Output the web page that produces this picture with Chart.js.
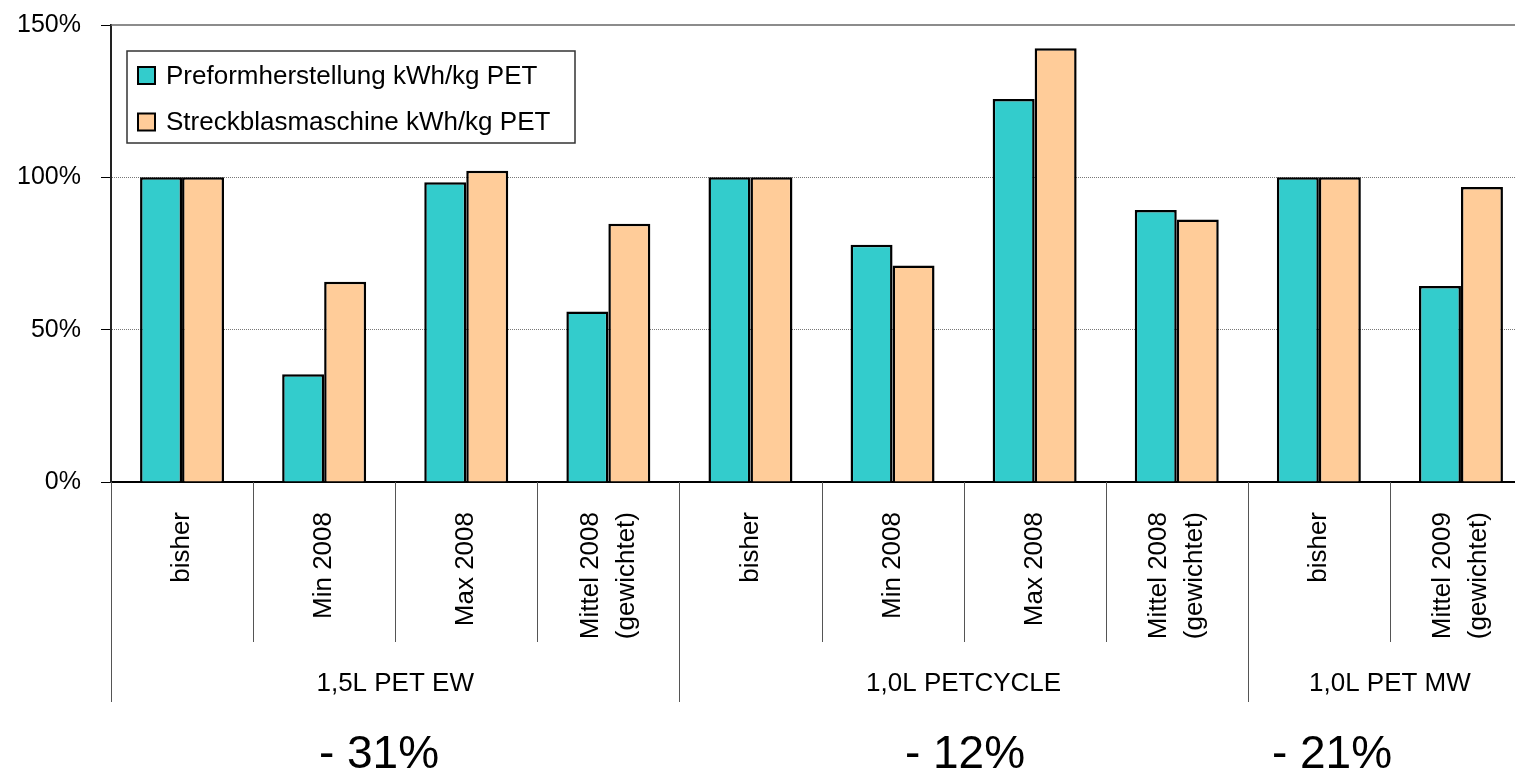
<!DOCTYPE html>
<html>
<head>
<meta charset="utf-8">
<title>Energieverbrauch PET</title>
<script src="https://cdn.jsdelivr.net/npm/chart.js@4/dist/chart.umd.min.js"></script>
<style>
    html, body { margin: 0; padding: 0; background: #fff; overflow: hidden; }
    canvas { display: block; }
</style>
</head>
<body>
<canvas id="energyChart" width="1540" height="773"></canvas>
<script>
// data
const categories = ["bisher", "Min 2008", "Max 2008", ["Mittel 2008", "(gewichtet)"],
    "bisher", "Min 2008", "Max 2008", ["Mittel 2008", "(gewichtet)"],
    "bisher", ["Mittel 2009", "(gewichtet)"]];
const groups = ["1,5L PET EW", "1,0L PETCYCLE", "1,0L PET MW"];
const groupSizes = [4, 4, 2];
const reductions = ["- 31%", "- 12%", "- 21%"];
const seriesNames = ["Preformherstellung kWh/kg PET", "Streckblasmaschine kWh/kg PET"];
const preform = [100, 35.4, 98.4, 56.0, 100, 77.9, 125.7, 89.3, 100, 64.3];
const streck = [100, 65.7, 102.2, 84.8, 100, 71.1, 142.4, 86.2, 100, 96.8];
const yTicks = [0, 50, 100, 150];

const colors = ["#33CCCC", "#FFCC99"];
const fontFamily = "'Liberation Sans', Arial, sans-serif";
Chart.defaults.font.family = fontFamily;
Chart.defaults.color = "#000";

// multi level axis, legend box and the reduction notes
const extras = {
    id: "extras",
    afterDraw(chart) {
        const ctx = chart.ctx;
        const area = chart.chartArea;
        const x = chart.scales.x;
        ctx.save();

        // top line at 150%
        ctx.strokeStyle = "#666";
        ctx.lineWidth = 1.5;
        ctx.beginPath();
        ctx.moveTo(area.left, area.top);
        ctx.lineTo(area.right, area.top);
        ctx.stroke();

        // separators between categories and groups
        let groupStarts = [0];
        groupSizes.forEach((n, i) => groupStarts.push(groupStarts[i] + n));
        ctx.strokeStyle = "#555";
        ctx.lineWidth = 1;
        for (let i = 0; i <= categories.length; i++) {
            let px;
            if (i === 0) px = area.left;
            else if (i === categories.length) px = area.right;
            else px = (x.getPixelForValue(i - 1) + x.getPixelForValue(i)) / 2;
            const isGroup = groupStarts.includes(i);
            ctx.beginPath();
            ctx.moveTo(Math.round(px) + 0.5, area.bottom);
            ctx.lineTo(Math.round(px) + 0.5, isGroup ? area.bottom + 220 : area.bottom + 160);
            ctx.stroke();
        }

        // rotated category labels
        ctx.fillStyle = "#000";
        ctx.font = "26px " + fontFamily;
        ctx.textAlign = "right";
        ctx.textBaseline = "middle";
        categories.forEach((label, i) => {
            const lines = Array.isArray(label) ? label : [label];
            const cx = x.getPixelForValue(i);
            lines.forEach((line, j) => {
                const off = (j - (lines.length - 1) / 2) * 36;
                ctx.save();
                ctx.translate(cx + off, area.bottom + 30);
                ctx.rotate(-Math.PI / 2);
                ctx.fillText(line, 0, 0);
                ctx.restore();
            });
        });

        // group labels
        ctx.textAlign = "center";
        ctx.textBaseline = "alphabetic";
        ctx.font = "26px " + fontFamily;
        groups.forEach((g, i) => {
            const a = groupStarts[i] === 0 ? area.left :
                (x.getPixelForValue(groupStarts[i] - 1) + x.getPixelForValue(groupStarts[i])) / 2;
            const b = groupStarts[i + 1] === categories.length ? area.right :
                (x.getPixelForValue(groupStarts[i + 1] - 1) + x.getPixelForValue(groupStarts[i + 1])) / 2;
            ctx.fillText(g, (a + b) / 2, area.bottom + 209);
        });

        // reductions below the groups
        ctx.font = "46px " + fontFamily;
        const notePos = [379, 965, 1332];
        reductions.forEach((r, i) => {
            ctx.fillText(r, notePos[i], 768);
        });

        // legend
        ctx.fillStyle = "#fff";
        ctx.fillRect(127, 51, 448, 92);
        ctx.strokeStyle = "#333";
        ctx.lineWidth = 1.5;
        ctx.strokeRect(127, 51, 448, 92);
        ctx.font = "26px " + fontFamily;
        ctx.textAlign = "left";
        seriesNames.forEach((name, i) => {
            const y = 67 + i * 46.5;
            ctx.fillStyle = colors[i];
            ctx.fillRect(138, y, 17, 17);
            ctx.strokeStyle = "#000";
            ctx.lineWidth = 2;
            ctx.strokeRect(138, y, 17, 17);
            ctx.fillStyle = "#000";
            ctx.fillText(name, 166, y + 16.5);
        });

        ctx.restore();
    }
};

new Chart("energyChart", {
    type: "bar",
    data: {
        labels: categories,
        datasets: [{
            label: seriesNames[0],
            data: preform,
            backgroundColor: colors[0],
            borderColor: "#000",
            borderWidth: 2.5
        }, {
            label: seriesNames[1],
            data: streck,
            backgroundColor: colors[1],
            borderColor: "#000",
            borderWidth: 2.5
        }]
    },
    options: {
        responsive: false,
        animation: false,
        categoryPercentage: 0.591,
        barPercentage: 1,
        layout: {padding: {top: 25, right: 8, left: 0, bottom: 0}},
        plugins: {
            legend: {display: false},
            tooltip: {enabled: false}
        },
        scales: {
            x: {
                ticks: {display: false},
                grid: {display: false},
                border: {display: true, color: "#000", width: 2},
                afterFit: s => { s.height = 291; }
            },
            y: {
                min: 0,
                max: 150,
                afterBuildTicks: s => { s.ticks = yTicks.map(v => ({value: v})); },
                afterFit: s => {
                    s.width = 111;
                    s.paddingTop = 0;
                    s.paddingBottom = 0;
                },
                ticks: {
                    padding: 20,
                    font: {size: 25},
                    color: "#000",
                    callback: v => v + "%"
                },
                grid: {
                    color: c => (c.tick && (c.tick.value === 50 || c.tick.value === 100)) ? "#777" : "rgba(0,0,0,0)",
                    tickColor: "#000",
                    tickLength: 10,
                    tickWidth: 1
                },
                border: {display: true, color: "#222", width: 2, dash: [1, 1]}
            }
        }
    },
    plugins: [extras]
});
</script>
</body>
</html>
